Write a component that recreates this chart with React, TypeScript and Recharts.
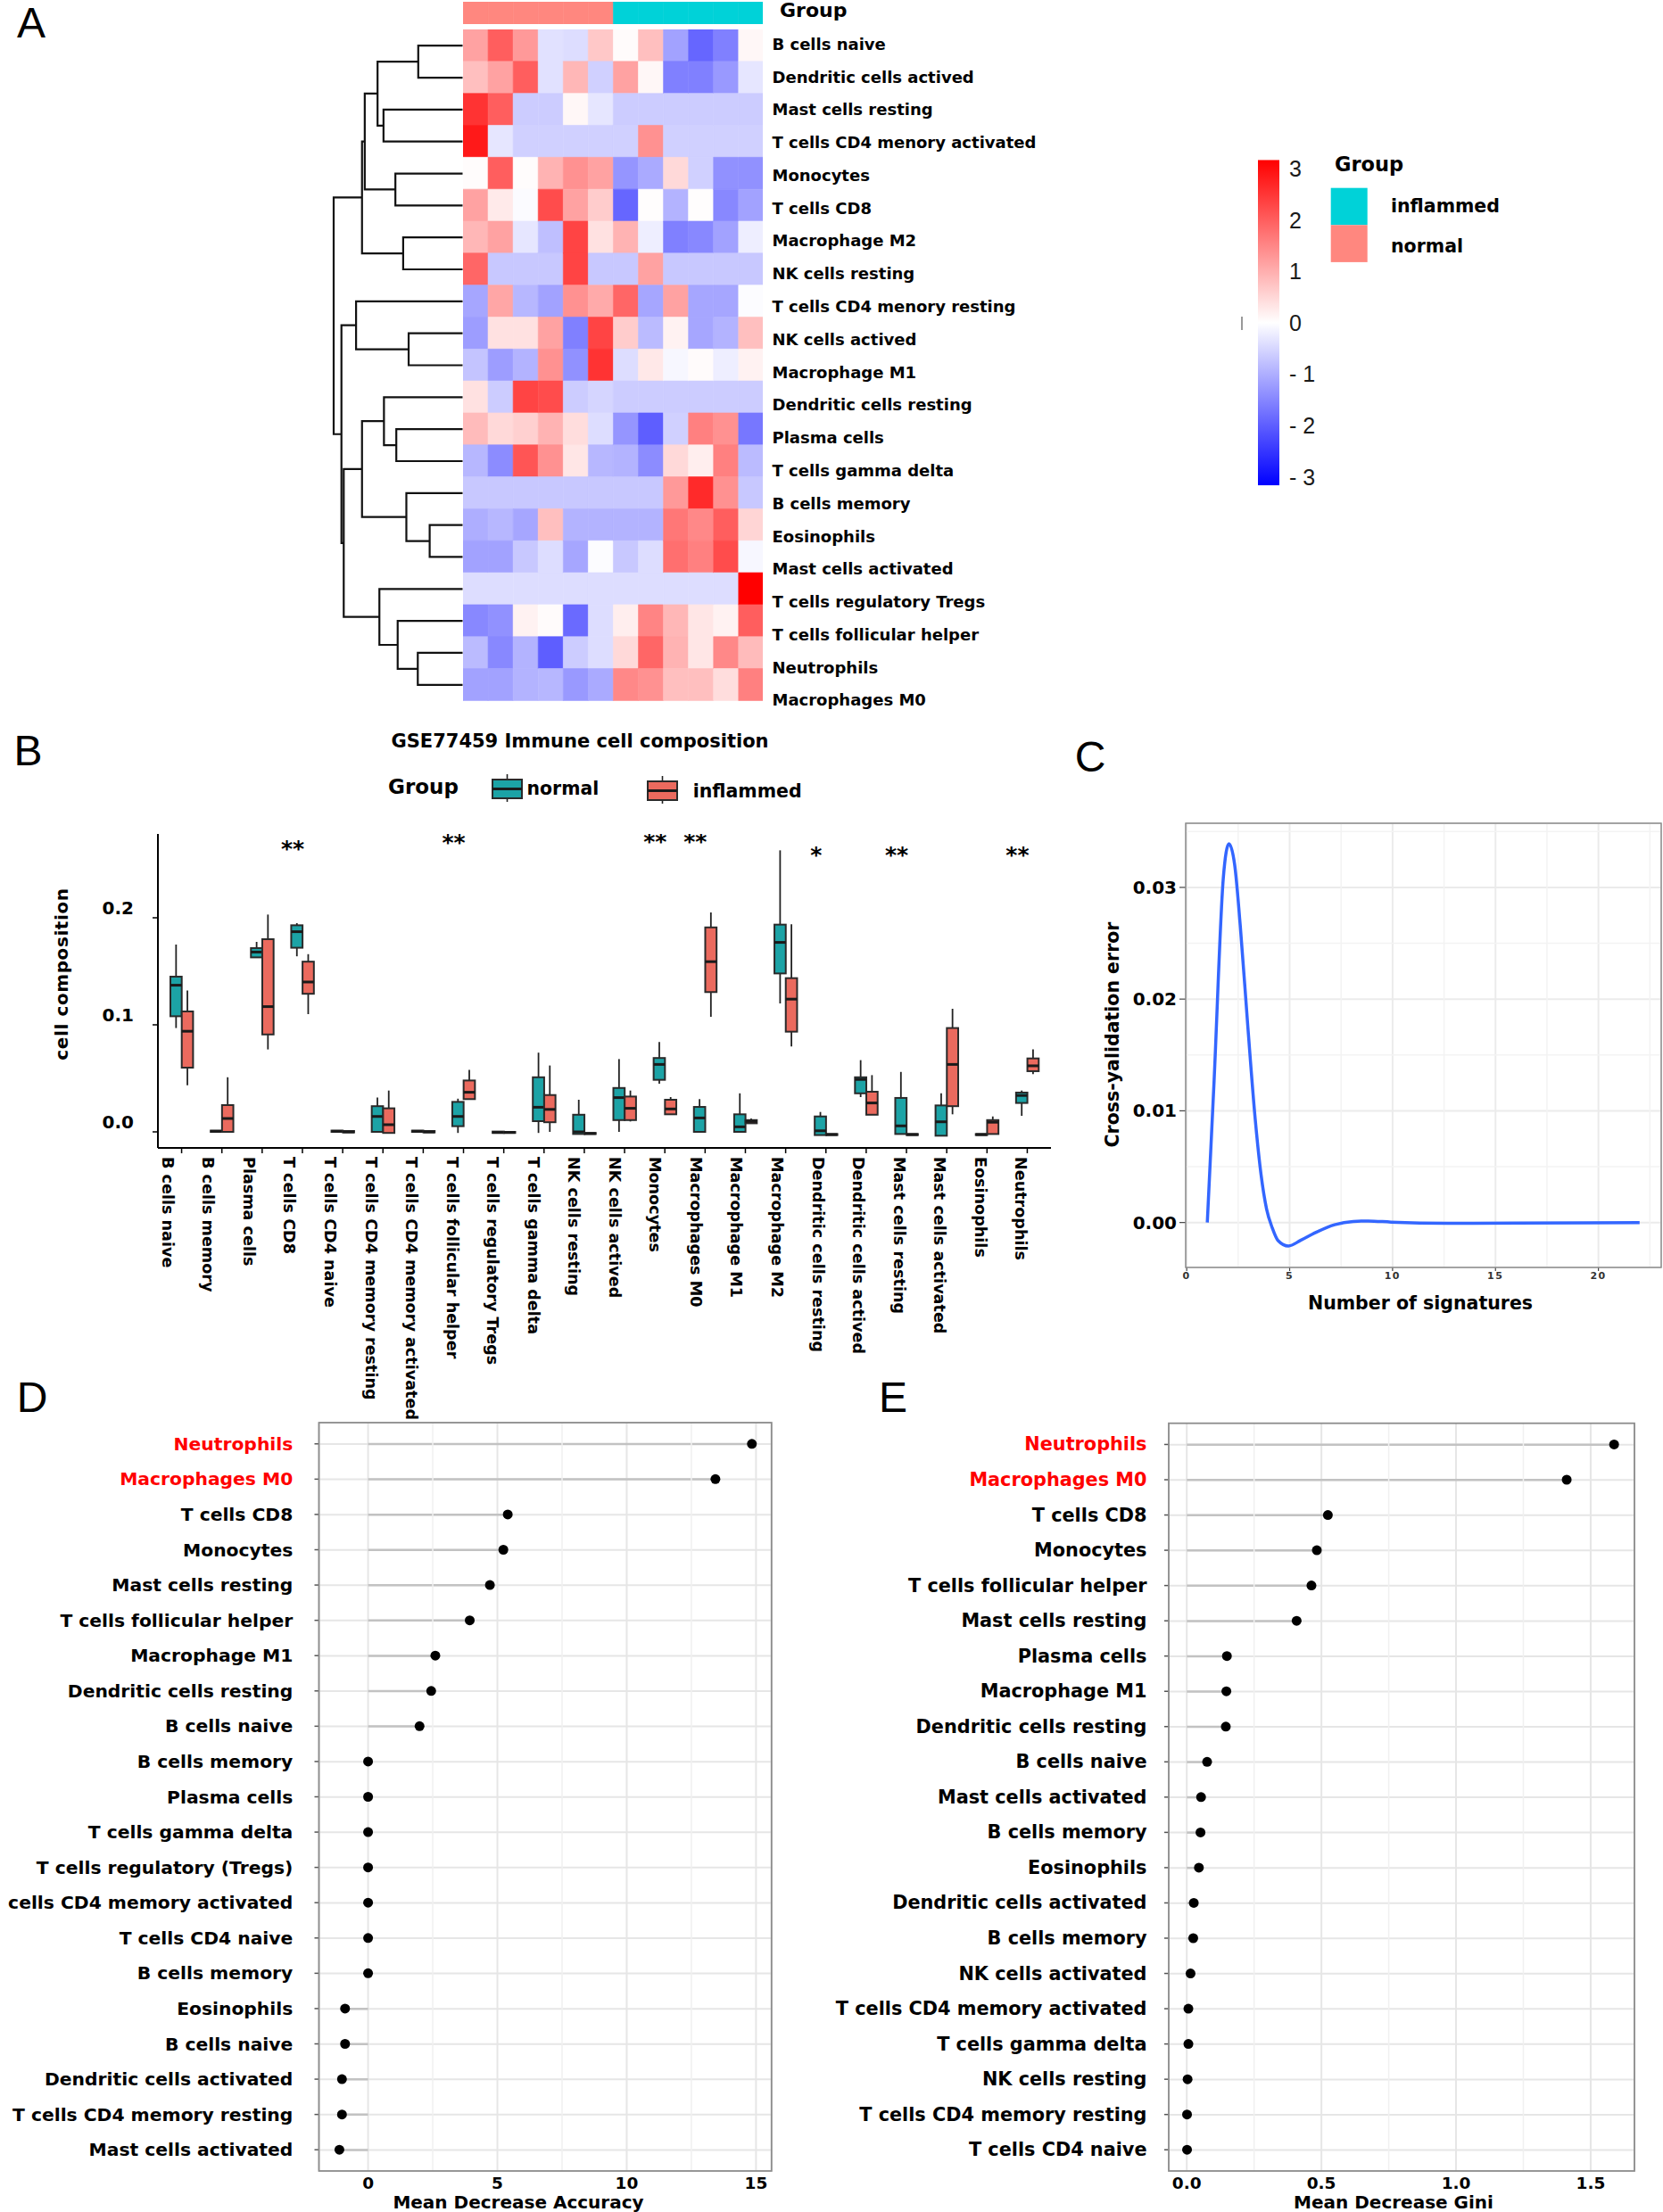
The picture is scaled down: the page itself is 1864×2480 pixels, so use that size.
import React from 'react';
import {
  BarChart, Bar, XAxis, YAxis, Cell, ScatterChart, Scatter,
  ComposedChart, Line, LineChart, CartesianGrid, ReferenceLine,
} from 'recharts';

const BOLD = '"DejaVu Sans", "Liberation Sans", Arial, sans-serif';
const PLAIN = '"Liberation Sans", Arial, sans-serif';

/* ================= Panel A : heatmap ================= */
const heatRowNames = [
  'B cells naive', 'Dendritic cells actived', 'Mast cells resting', 'T cells CD4 menory activated',
  'Monocytes', 'T cells CD8', 'Macrophage M2', 'NK cells resting', 'T cells CD4 menory resting',
  'NK cells actived', 'Macrophage M1', 'Dendritic cells resting', 'Plasma cells', 'T cells gamma delta',
  'B cells memory', 'Eosinophils', 'Mast cells activated', 'T cells regulatory Tregs',
  'T cells follicular helper', 'Neutrophils', 'Macrophages M0',
];
const sampleGroups = [
  'normal', 'normal', 'normal', 'normal', 'normal', 'normal',
  'inflammed', 'inflammed', 'inflammed', 'inflammed', 'inflammed', 'inflammed',
];
const heatZ = [
  [1.1, 1.9, 1.2, -0.35, -0.4, 0.65, 0.05, 0.75, -1.1, -1.8, -1.5, 0.1],
  [0.75, 1.1, 1.9, -0.35, 0.85, -0.55, 1.1, 0.1, -1.5, -1.5, -1.2, -0.3],
  [2.4, 1.9, -0.6, -0.6, 0.1, -0.3, -0.6, -0.6, -0.6, -0.6, -0.6, -0.6],
  [2.7, -0.3, -0.55, -0.55, -0.55, -0.55, -0.55, 1.3, -0.55, -0.55, -0.55, -0.55],
  [0.03, 1.9, 0.03, 0.9, 1.3, 1.1, -1.25, -1.0, 0.45, -0.55, -1.3, -1.3],
  [1.1, 0.25, -0.05, 2.1, 1.1, 0.6, -1.8, 0.02, -0.9, 0.02, -1.4, -1.1],
  [0.85, 1.1, -0.3, -0.75, 2.2, 0.35, 0.9, -0.2, -1.5, -1.4, -1.1, -0.2],
  [1.8, -0.65, -0.65, -0.65, 2.2, -0.65, -0.65, 1.1, -0.65, -0.65, -0.65, -0.65],
  [-1.05, 1.05, -0.85, -1.1, 1.3, 1.0, 1.8, -1.05, 1.1, -1.05, -1.05, -0.03],
  [-1.15, 0.35, 0.35, 1.1, -1.5, 2.2, 0.6, -0.8, 0.15, -1.05, -0.9, 0.75],
  [-0.7, -1.15, -0.9, 1.3, -1.3, 2.4, -0.4, 0.27, -0.1, 0.05, -0.2, 0.15],
  [0.35, -0.6, 2.2, 2.1, -0.6, -0.5, -0.6, -0.6, -0.6, -0.6, -0.6, -0.6],
  [0.8, 0.45, 0.55, 0.9, 0.4, -0.4, -1.25, -1.9, -0.55, 1.5, 1.3, -1.6],
  [-0.85, -1.35, 2.0, 1.3, 0.3, -0.85, -0.9, -1.35, 0.45, 0.2, 1.5, -0.8],
  [-0.65, -0.65, -0.65, -0.65, -0.65, -0.65, -0.65, -0.65, 1.2, 2.5, 1.3, -0.65],
  [-0.95, -0.85, -1.05, 0.75, -0.9, -0.9, -0.9, -0.9, 1.6, 1.4, 1.9, 0.5],
  [-1.1, -1.1, -0.65, -0.4, -1.05, -0.03, -0.65, -0.4, 1.7, 1.5, 2.1, -0.1],
  [-0.4, -0.4, -0.4, -0.4, -0.4, -0.4, -0.4, -0.4, -0.4, -0.4, -0.4, 3.0],
  [-1.4, -1.3, 0.15, 0.05, -1.75, -0.4, 0.2, 1.45, 0.85, 0.3, 0.15, 1.9],
  [-0.8, -1.4, -0.9, -1.9, -0.6, -0.4, 0.45, 1.8, 0.9, 0.3, 1.4, 0.8],
  [-1.1, -1.1, -0.9, -0.85, -1.2, -1.0, 1.4, 1.3, 0.75, 0.75, 0.4, 1.5],
];
// hclust-style merges: negative = leaf (row index + 1), positive = earlier merge (1-based); third = height
const dendroMerges: [number, number, number][] = [
  [-1, -2, 97], [-3, -4, 173], [1, 2, 186], [-5, -6, 147], [3, 4, 214],
  [-7, -8, 130], [5, 6, 220], [-10, -11, 118], [-9, 8, 233], [-13, -14, 145],
  [-12, 10, 172], [-16, -17, 72], [-15, 12, 123], [11, 13, 220], [-20, -21, 98],
  [-19, 15, 142], [-18, 16, 182], [14, 17, 260], [9, 18, 265], [7, 19, 282],
];
const dendroMaxHeight = 282;
const colorBarLimits: [number, number] = [-3.17, 3.17];
const colorBarTicks = [3, 2, 1, 0, -1, -2, -3];
const groupColors: Record<string, string> = { normal: '#FF877F', inflammed: '#00D2D8' };
const groupLegendOrder = ['inflammed', 'normal'];

/* ================= Panel B : box plots ================= */
const cellTypes = [
  'B cells naive', 'B cells memory', 'Plasma cells', 'T cells CD8', 'T cells CD4 naive',
  'T cells CD4 memory resting', 'T cells CD4 memory activated', 'T cells follicular helper',
  'T cells regulatory Tregs', 'T cells gamma delta', 'NK cells resting', 'NK cells actived',
  'Monocytes', 'Macrophages M0', 'Macrophage M1', 'Macrophage M2', 'Dendritic cells resting',
  'Dendritic cells actived', 'Mast cells resting', 'Mast cells activated', 'Eosinophils', 'Neutrophils',
];
// [min, q1, median, q3, max]
const normalStats = [
  [0.097, 0.108, 0.137, 0.145, 0.175],
  [0, 0, 0.0005, 0.0012, 0.0014],
  [0.163, 0.163, 0.168, 0.1717, 0.1775],
  [0.164, 0.172, 0.187, 0.193, 0.195],
  [0, 0, 0.0005, 0.0012, 0.0014],
  [0, 0, 0.0144, 0.024, 0.032],
  [0, 0, 0.0005, 0.0012, 0.0014],
  [-0.001, 0.0053, 0.0144, 0.028, 0.031],
  [-0.001, -0.001, -0.0005, 0.0003, 0.0005],
  [-0.001, 0.010, 0.023, 0.051, 0.074],
  [-0.002, -0.002, 0, 0.016, 0.030],
  [0, 0.011, 0.032, 0.041, 0.068],
  [0.045, 0.0486, 0.063, 0.069, 0.084],
  [0, 0, 0.013, 0.0233, 0.0306],
  [0, 0, 0.0047, 0.0164, 0.036],
  [0.12, 0.148, 0.177, 0.1936, 0.263],
  [-0.003, -0.003, 0.001, 0.0144, 0.0186],
  [0.0325, 0.036, 0.049, 0.051, 0.067],
  [-0.002, -0.002, 0.0056, 0.0317, 0.056],
  [-0.0036, -0.0036, 0.0094, 0.0247, 0.036],
  [-0.003, -0.003, -0.0025, -0.002, -0.0018],
  [0.015, 0.027, 0.034, 0.0367, 0.0386],
];
const inflamedStats = [
  [0.0436, 0.060, 0.094, 0.1125, 0.132],
  [0, 0, 0.0125, 0.025, 0.051],
  [0.077, 0.091, 0.117, 0.18, 0.203],
  [0.110, 0.129, 0.14, 0.159, 0.166],
  [-0.0005, -0.0005, 0, 0.0008, 0.001],
  [-0.001, -0.001, 0.0067, 0.022, 0.0386],
  [-0.0005, -0.0005, 0, 0.0008, 0.001],
  [0.0306, 0.0306, 0.037, 0.048, 0.058],
  [-0.001, -0.001, -0.0005, 0, 0.0002],
  [0, 0.009, 0.021, 0.0344, 0.062],
  [-0.002, -0.002, -0.0015, -0.001, -0.0008],
  [0.0097, 0.011, 0.022, 0.033, 0.0386],
  [0.016, 0.0164, 0.0214, 0.030, 0.0325],
  [0.1075, 0.1306, 0.159, 0.191, 0.205],
  [0.008, 0.008, 0.0097, 0.011, 0.0125],
  [0.0797, 0.0936, 0.124, 0.1436, 0.194],
  [-0.003, -0.003, -0.0025, -0.002, -0.0018],
  [0.016, 0.016, 0.027, 0.0375, 0.053],
  [-0.003, -0.003, -0.0025, -0.002, -0.0018],
  [0.0164, 0.024, 0.063, 0.097, 0.115],
  [-0.002, -0.002, 0.009, 0.011, 0.0144],
  [0.054, 0.0567, 0.0617, 0.0686, 0.077],
];
const sigMarks = ['', '', '', '**', '', '', '', '**', '', '', '', '', '**', '**', '', '', '*', '', '**', '', '', '**'];
const sigHeights = [null, null, null, 0.270, null, null, null, 0.2758, null, null, null, null, 0.277, 0.277, null, null, 0.2644, null, 0.2644, null, null, 0.2644];
const boxYTicks = [0, 0.1, 0.2];
const TEAL = '#1CA3A6';
const RED = '#EB6A5E';

/* ================= Panel C : cross-validation ================= */
const cvSignatures = [1, 1.33, 1.78, 2.05, 2.33, 2.6, 2.97, 3.33, 3.61, 3.88, 4.16, 4.43, 4.94, 5.53, 6.26, 7.18, 8.09, 8.82, 9.92, 12.67, 16, 22];
const cvError = [0, 0.0127, 0.0309, 0.0339, 0.032, 0.0266, 0.0175, 0.0092, 0.0043, 0.0012, -0.0005, -0.0016, -0.0021, -0.0016, -0.0009, -0.0002, 0.0001, 0.00014, 0.00004, -0.00007, -0.00005, 0];
const cvXTicks = [0, 5, 10, 15, 20];
const cvXMinor = [2.5, 7.5, 12.5, 17.5, 22.5];
const cvYTicks = [0, 0.01, 0.02, 0.03];
const cvYMinor = [0.005, 0.015, 0.025, 0.035];

/* ================= Panels D / E : importance ================= */
const highlightCells = ['Neutrophils', 'Macrophages M0'];
const accLabels = [
  'Neutrophils', 'Macrophages M0', 'T cells CD8', 'Monocytes', 'Mast cells resting',
  'T cells follicular helper', 'Macrophage M1', 'Dendritic cells resting', 'B cells naive',
  'B cells memory', 'Plasma cells', 'T cells gamma delta', 'T cells regulatory (Tregs)',
  'cells CD4 memory activated', 'T cells CD4 naive', 'B cells memory', 'Eosinophils',
  'B cells naive', 'Dendritic cells activated', 'T cells CD4 memory resting', 'Mast cells activated',
];
const accValues = [14.84, 13.43, 5.40, 5.23, 4.71, 3.93, 2.6, 2.44, 1.99, 0, 0, 0, 0, 0, 0, 0, -0.89, -0.89, -1.01, -1.01, -1.11];
const accTicks = [0, 5, 10, 15];
const accMinor = [2.5, 7.5, 12.5];
const giniLabels = [
  'Neutrophils', 'Macrophages M0', 'T cells CD8', 'Monocytes', 'T cells follicular helper',
  'Mast cells resting', 'Plasma cells', 'Macrophage M1', 'Dendritic cells resting', 'B cells naive',
  'Mast cells activated', 'B cells memory', 'Eosinophils', 'Dendritic cells activated', 'B cells memory',
  'NK cells activated', 'T cells CD4 memory activated', 'T cells gamma delta', 'NK cells resting',
  'T cells CD4 memory resting', 'T cells CD4 naive',
];
const giniValues = [1.587, 1.411, 0.524, 0.483, 0.463, 0.408, 0.149, 0.147, 0.145, 0.0755, 0.053, 0.051, 0.045, 0.026, 0.024, 0.014, 0.006, 0.006, 0.003, 0.001, 0.001];
const giniTicks = [0, 0.5, 1.0, 1.5];
const giniMinor = [0.25, 0.75, 1.25];

/* ================= helpers ================= */
function heatColor(z: number) {
  const t = Math.max(-3, Math.min(3, z)) / 3;
  if (t >= 0) {
    const g = Math.round(255 * (1 - t));
    return `rgb(255,${g},${g})`;
  }
  const r = Math.round(255 * (1 + t));
  return `rgb(${r},${r},255)`;
}

const heatData = heatRowNames.map((name, r) => ({ name, z: heatZ[r] }));
const groupRow = [{ name: 'Group' }];
const unitKeys = sampleGroups.map(() => () => 1);
const zeroKey = () => 0;
const EmptyShape = () => <g />;
const EmptyTick = () => <g />;

const dendroSegs = (() => {
  const nodes: { r: number; h: number }[] = [];
  const get = (id: number) => (id < 0 ? { r: -id - 1, h: 0 } : nodes[id - 1]);
  return dendroMerges.map(([a, b, h], k) => {
    const A = get(a);
    const B = get(b);
    nodes[k] = { r: (A.r + B.r) / 2, h };
    return [{ h: A.h, r: A.r }, { h, r: A.r }, { h, r: B.r }, { h: B.h, r: B.r }];
  });
})();

const Abs = ({ left, top, children }: any) => (
  <div style={{ position: 'absolute', left, top }}>{children}</div>
);

/* ---------- A components ---------- */
function GroupBar() {
  return (
    <BarChart layout="vertical" width={336.9} height={25.6} data={groupRow}
      margin={{ top: 0, right: 0, bottom: 0, left: 0 }} barCategoryGap={0} barGap={0}>
      <XAxis type="number" domain={[0, sampleGroups.length]} hide />
      <YAxis type="category" dataKey="name" hide />
      {unitKeys.map((k, c) => (
        <Bar key={c} dataKey={k} stackId="g" fill={groupColors[sampleGroups[c]]}
          stroke={groupColors[sampleGroups[c]]} strokeWidth={0.6} isAnimationActive={false} />
      ))}
    </BarChart>
  );
}

function HeatCells() {
  return (
    <BarChart layout="vertical" width={336.9} height={752.4} data={heatData}
      margin={{ top: 0, right: 0, bottom: 0, left: 0 }} barCategoryGap={0} barGap={0}>
      <XAxis type="number" domain={[0, sampleGroups.length]} hide />
      <YAxis type="category" dataKey="name" hide />
      {unitKeys.map((k, c) => (
        <Bar key={c} dataKey={k} stackId="cells" isAnimationActive={false}>
          {heatData.map((row, r) => {
            const col = heatColor(row.z[c]);
            return <Cell key={r} fill={col} stroke={col} strokeWidth={0.6} />;
          })}
        </Bar>
      ))}
    </BarChart>
  );
}

const HeatLabelTick = (props: any) => (
  <text x={10.5} y={props.y} dominantBaseline="central" fontFamily={BOLD} fontWeight="bold"
    fontSize={18} fill="#000">{props.payload.value}</text>
);

function HeatLabels() {
  return (
    <BarChart layout="vertical" width={330} height={820} data={heatData}
      margin={{ top: 30.9, right: 0, bottom: 16.7, left: 0 }}>
      <XAxis type="number" domain={[0, 1]} hide />
      <YAxis type="category" dataKey="name" width={1} interval={0} axisLine={false} tickLine={false} tick={HeatLabelTick} />
      <Bar dataKey={zeroKey} fill="none" isAnimationActive={false} />
    </BarChart>
  );
}

function Dendrogram() {
  return (
    <ScatterChart width={160} height={800} margin={{ top: 33.3, right: 1.5, bottom: 14.3, left: 14 }}>
      <XAxis type="number" dataKey="h" domain={[0, dendroMaxHeight]} reversed hide />
      <YAxis type="number" dataKey="r" domain={[-0.5, heatRowNames.length - 0.5]} reversed hide />
      {dendroSegs.map((pts, i) => (
        <Scatter key={i} data={pts} line={{ stroke: '#111', strokeWidth: 2.2 }} shape={EmptyShape}
          isAnimationActive={false} />
      ))}
    </ScatterChart>
  );
}

const colorLegendData = [{ k: 'z', lim: colorBarLimits }];
const ColorTick = (props: any) => {
  const v = props.payload.value;
  return (
    <text x={props.x + 3} y={props.y} dominantBaseline="central" fontFamily={PLAIN} fontSize={25} fill="#1a1a1a">
      {v < 0 ? `- ${-v}` : `${v}`}
    </text>
  );
};

function ColorLegend() {
  return (
    <BarChart width={110} height={400} data={colorLegendData}
      margin={{ top: 19.3, right: 0, bottom: 15.7, left: 10 }} barCategoryGap={0}>
      <defs>
        <linearGradient id="heatGradient" x1="0" y1="0" x2="0" y2="1">
          <stop offset="0%" stopColor={heatColor(colorBarLimits[1])} />
          <stop offset="50%" stopColor={heatColor(0)} />
          <stop offset="100%" stopColor={heatColor(colorBarLimits[0])} />
        </linearGradient>
      </defs>
      <XAxis dataKey="k" hide />
      <YAxis type="number" orientation="right" domain={colorBarLimits} ticks={colorBarTicks} width={76}
        axisLine={false} tickLine={false} tick={ColorTick} allowDataOverflow interval={0} />
      <Bar dataKey="lim" fill="url(#heatGradient)" isAnimationActive={false} />
    </BarChart>
  );
}

/* ---------- B components ---------- */
const boxData = cellTypes.map((name, i) => ({
  name,
  normal: normalStats[i],
  inflamed: inflamedStats[i],
  sig: sigMarks[i],
  sigY: sigMarks[i] ? sigHeights[i] : null,
}));
const normalRange = (d: any) => [d.normal[0], d.normal[4]];
const inflamedRange = (d: any) => [d.inflamed[0], d.inflamed[4]];

const makeBoxShape = (key: string, fill: string) => (p: any) => {
  const { x, y, width, height, payload } = p;
  const [mn, q1, md, q3, mx] = payload[key];
  const span = mx - mn;
  const py = (v: number) => (span > 0 ? y + ((mx - v) / span) * height : y);
  const cx = x + width / 2;
  const top = py(q3);
  const h = Math.max(py(q1) - top, 1);
  return (
    <g>
      <line x1={cx} x2={cx} y1={py(mx)} y2={py(mn)} stroke="#222" strokeWidth={1.8} />
      <rect x={x} y={top} width={width} height={h} fill={fill} stroke="#2a2a2a" strokeWidth={2} />
      <line x1={x} x2={x + width} y1={py(md)} y2={py(md)} stroke="#1a1a1a" strokeWidth={3} />
    </g>
  );
};
const normalBoxShape = makeBoxShape('normal', TEAL);
const inflamedBoxShape = makeBoxShape('inflamed', RED);

const renderStar = (p: any) => {
  const { cx, cy, payload, index } = p;
  if (!payload || !payload.sig || cy == null || isNaN(cy)) return <g key={`s${index}`} />;
  return (
    <text key={`s${index}`} x={cx - 11} y={cy + 15} textAnchor="middle" fontFamily={BOLD}
      fontWeight="bold" fontSize={25} fill="#000">{payload.sig}</text>
  );
};

const BoxYTick = (props: any) => (
  <text x={props.x} y={props.y - 11} textAnchor="end" dominantBaseline="central" fontFamily={BOLD}
    fontWeight="bold" fontSize={20} fill="#000">{props.payload.value.toFixed(1)}</text>
);

function BoxPanel() {
  return (
    <ComposedChart width={1160} height={397} data={boxData}
      margin={{ top: 35, right: 22, bottom: 0, left: 0 }} barGap={0} barSize={12.7}>
      <XAxis dataKey="name" type="category" interval={0} padding={{ left: 4, right: 4 }} height={10}
        axisLine={{ stroke: '#000', strokeWidth: 2 }} tickLine={{ stroke: '#000', strokeWidth: 1.5 }}
        tickSize={6} tick={EmptyTick} />
      <YAxis type="number" domain={[-0.015, 0.2783]} ticks={boxYTicks} allowDataOverflow width={137}
        axisLine={{ stroke: '#000', strokeWidth: 2 }} tickLine={{ stroke: '#000', strokeWidth: 1.5 }}
        tickSize={6} tickMargin={21} tick={BoxYTick} interval={0} />
      <Bar dataKey={normalRange} shape={normalBoxShape} isAnimationActive={false} />
      <Bar dataKey={inflamedRange} shape={inflamedBoxShape} isAnimationActive={false} />
      <Line dataKey="sigY" stroke="none" dot={renderStar} activeDot={false} isAnimationActive={false} />
    </ComposedChart>
  );
}

const BoxXLabel = (props: any) => {
  const { x, y, payload } = props;
  return (
    <text transform={`rotate(90 ${x} ${y + 2})`} x={x} y={y + 2} dominantBaseline="central"
      fontFamily={BOLD} fontWeight="bold" fontSize={17.6} fill="#000">{payload.value}</text>
  );
};

function BoxLabels() {
  return (
    <BarChart width={1002} height={340} data={boxData} margin={{ top: 0, right: 0, bottom: 0, left: 0 }}>
      <XAxis dataKey="name" type="category" interval={0} height={330} axisLine={false} tickLine={false} tick={BoxXLabel} />
      <YAxis domain={[0, 1]} hide />
      <Bar dataKey={zeroKey} fill="none" isAnimationActive={false} />
    </BarChart>
  );
}

/* ---------- C component ---------- */
const cvData = cvSignatures.map((x, i) => ({ x, err: cvError[i] }));
const CYTick = (props: any) => (
  <text x={props.x} y={props.y} textAnchor="end" dominantBaseline="central" fontFamily={BOLD}
    fontWeight="bold" fontSize={20} fill="#000">{props.payload.value.toFixed(2)}</text>
);
const CXTick = (props: any) => (
  <text x={props.x} y={props.y + 3} textAnchor="middle" dominantBaseline="central" fontFamily={BOLD}
    fontWeight="bold" fontSize={11} letterSpacing={1.5} fill="#333">{props.payload.value}</text>
);

function CVPanel() {
  return (
    <LineChart width={664} height={561} data={cvData} margin={{ top: 43, right: 2, bottom: 0, left: 0 }}>
      <CartesianGrid stroke="#ebebeb" strokeWidth={2} />
      {cvXMinor.map((v) => <ReferenceLine key={`xm${v}`} x={v} stroke="#f3f3f3" strokeWidth={1.5} />)}
      {cvYMinor.map((v) => <ReferenceLine key={`ym${v}`} y={v} stroke="#f3f3f3" strokeWidth={1.5} />)}
      <XAxis type="number" dataKey="x" domain={[-0.05, 23.05]} ticks={cvXTicks} allowDataOverflow height={20}
        axisLine={false} tickSize={4} tickLine={{ stroke: '#444', strokeWidth: 1.2 }} tick={CXTick} interval={0} />
      <YAxis type="number" domain={[-0.00402, 0.03574]} ticks={cvYTicks} allowDataOverflow width={129}
        axisLine={false} tickSize={7} tickMargin={3} tickLine={{ stroke: '#444', strokeWidth: 1.2 }} tick={CYTick} interval={0} />
      <Line dataKey="err" type="monotone" stroke="#3366FF" strokeWidth={3.5} dot={false} isAnimationActive={false} />
    </LineChart>
  );
}

/* ---------- D / E component ---------- */
const RowLine = (p: any) => (
  <line x1={p.x} x2={p.x + p.width} y1={p.y + p.height / 2} y2={p.y + p.height / 2} stroke="#e6e6e6" strokeWidth={2} />
);
const SegmentShape = (p: any) => (
  <line x1={p.x} x2={p.x + p.width} y1={p.y + p.height / 2} y2={p.y + p.height / 2} stroke="#c2c2c2" strokeWidth={2.5} />
);

function Importance({ labels, values, domain, ticks, minor, fmt, width, axisWidth, rightMargin, topMargin, labelGap, labelSize }: any) {
  const data = labels.map((label: string, i: number) => ({
    id: String(i), label, v: values[i], seg: [Math.min(0, values[i]), Math.max(0, values[i])],
  }));
  const YTick = (props: any) => {
    const i = Number(props.payload.value);
    const label = labels[i];
    return (
      <text x={props.x} y={props.y} textAnchor="end" dominantBaseline="central" fontFamily={BOLD}
        fontWeight="bold" fontSize={labelSize} fill={highlightCells.includes(label) ? '#FF0000' : '#000'}>{label}</text>
    );
  };
  const XTick = (props: any) => (
    <text x={props.x} y={props.y + 4} textAnchor="middle" dominantBaseline="central" fontFamily={BOLD}
      fontWeight="bold" fontSize={18.5} fill="#000">{fmt(props.payload.value)}</text>
  );
  return (
    <ComposedChart layout="vertical" width={width} height={920} data={data}
      margin={{ top: topMargin, right: rightMargin, bottom: 0, left: 0 }}>
      <CartesianGrid horizontal={false} stroke="#e6e6e6" strokeWidth={2} />
      {minor.map((v: number) => <ReferenceLine key={`m${v}`} x={v} stroke="#f0f0f0" strokeWidth={1.5} />)}
      <XAxis type="number" domain={domain} ticks={ticks} allowDataOverflow height={46} axisLine={false}
        tickLine={false} tickSize={0} tickMargin={9} tick={XTick} interval={0} />
      <YAxis type="category" dataKey="id" width={axisWidth} interval={0} padding={{ top: 4, bottom: 4 }}
        axisLine={false} tickSize={5} tickMargin={labelGap} tickLine={{ stroke: '#555', strokeWidth: 1.5 }} tick={YTick} />
      <Bar dataKey="seg" barSize={6} background={RowLine} shape={SegmentShape} isAnimationActive={false} />
      <Line dataKey="v" stroke="none" dot={{ r: 5.5, fill: '#000', stroke: 'none' }} activeDot={false} isAnimationActive={false} />
    </ComposedChart>
  );
}

/* ---------- overlay texts ---------- */
function Overlay() {
  const letter = { fontFamily: PLAIN, fontSize: 48, fill: '#000', textAnchor: 'middle' as const, dominantBaseline: 'central' as const };
  const bold = { fontFamily: BOLD, fontWeight: 'bold' as const, fill: '#000' };
  return (
    <svg width={1864} height={2480} style={{ position: 'absolute', left: 0, top: 0, pointerEvents: 'none' }}>
      {/* panel letters */}
      <text x={35} y={25} {...letter}>A</text>
      <text x={31.5} y={841} {...letter}>B</text>
      <text x={1222} y={848} {...letter}>C</text>
      <text x={36} y={1566} {...letter}>D</text>
      <text x={1001} y={1566} {...letter}>E</text>

      {/* heatmap annotation title */}
      <text x={874} y={19} {...bold} fontSize={22}>Group</text>
      <line x1={1392} x2={1392} y1={355} y2={370} stroke="#555" strokeWidth={1.2} />

      {/* group legend */}
      <text x={1496} y={192} {...bold} fontSize={22.5}>Group</text>
      {groupLegendOrder.map((g, i) => (
        <g key={g}>
          <rect x={1491.7} y={210.7 + i * 41.6} width={41} height={41.6} fill={groupColors[g]} />
          <text x={1559} y={231 + i * 45} dominantBaseline="central" {...bold} fontSize={20.5}>{g}</text>
        </g>
      ))}

      {/* panel B title and legend */}
      <text x={650} y={831} textAnchor="middle" dominantBaseline="central" {...bold} fontSize={21}>GSE77459 Immune cell composition</text>
      <text x={435} y={882} dominantBaseline="central" {...bold} fontSize={23}>Group</text>
      <g>
        <line x1={568.5} x2={568.5} y1={868} y2={899} stroke="#222" strokeWidth={1.6} />
        <rect x={552} y={874} width={33} height={21} fill={TEAL} stroke="#2a2a2a" strokeWidth={2} />
        <line x1={552} x2={585} y1={884.5} y2={884.5} stroke="#1a1a1a" strokeWidth={3} />
        <text x={590.6} y={884} dominantBaseline="central" {...bold} fontSize={20.4}>normal</text>
      </g>
      <g>
        <line x1={742.5} x2={742.5} y1={870} y2={901} stroke="#222" strokeWidth={1.6} />
        <rect x={726} y={876} width={33} height={21} fill={RED} stroke="#2a2a2a" strokeWidth={2} />
        <line x1={726} x2={759} y1={886.5} y2={886.5} stroke="#1a1a1a" strokeWidth={3} />
        <text x={776.7} y={887} dominantBaseline="central" {...bold} fontSize={20.5}>inflammed</text>
      </g>
      <text x={69} y={1092} transform="rotate(-90 69 1092)" textAnchor="middle" dominantBaseline="central"
        {...bold} fontSize={20} letterSpacing={0.6}>cell composition</text>

      {/* panel C titles and frame */}
      <text x={1247} y={1160} transform="rotate(-90 1247 1160)" textAnchor="middle" dominantBaseline="central"
        {...bold} fontSize={20.5}>Cross-yalidation error</text>
      <text x={1592} y={1461} textAnchor="middle" dominantBaseline="central" {...bold} fontSize={20.5}>Number of signatures</text>
      <rect x={1329} y={923} width={533} height={498} fill="none" stroke="#8c8c8c" strokeWidth={1.5} />

      {/* panel D / E titles and frames */}
      <text x={581} y={2469} textAnchor="middle" dominantBaseline="central" {...bold} fontSize={20}>Mean Decrease Accuracy</text>
      <text x={1562} y={2469} textAnchor="middle" dominantBaseline="central" {...bold} fontSize={20}>Mean Decrease Gini</text>
      <rect x={357.5} y={1595} width={507.3} height={839} fill="none" stroke="#8c8c8c" strokeWidth={1.8} />
      <rect x={1310} y={1595.7} width={522} height={838.3} fill="none" stroke="#8c8c8c" strokeWidth={1.8} />
    </svg>
  );
}

export default function App() {
  return (
    <div style={{ position: 'absolute', left: 0, top: 0, width: 1864, height: 2480, background: '#fff', overflow: 'hidden', fontFamily: BOLD }}>
      <Abs left={518.5} top={1.7}><GroupBar /></Abs>
      <Abs left={360} top={0}><Dendrogram /></Abs>
      <Abs left={518.5} top={33.3}><HeatCells /></Abs>
      <Abs left={855.4} top={0}><HeatLabels /></Abs>
      <Abs left={1400} top={160}><ColorLegend /></Abs>
      <Abs left={40} top={900}><BoxPanel /></Abs>
      <Abs left={164.6} top={1277}><BoxLabels /></Abs>
      <Abs left={1200} top={880}><CVPanel /></Abs>
      <Abs left={0} top={1560}>
        <Importance labels={accLabels} values={accValues} domain={[-1.9, 15.6]} ticks={accTicks} minor={accMinor}
          fmt={(v: number) => `${v}`} width={890} axisWidth={357.5} rightMargin={25.2} topMargin={35} labelGap={24.2} labelSize={20.3} />
      </Abs>
      <Abs left={900} top={1560}>
        <Importance labels={giniLabels} values={giniValues} domain={[-0.067, 1.6626]} ticks={giniTicks} minor={giniMinor}
          fmt={(v: number) => v.toFixed(1)} width={964} axisWidth={410} rightMargin={32} topMargin={35.7} labelGap={19.5} labelSize={20.8} />
      </Abs>
      <Overlay />
    </div>
  );
}
